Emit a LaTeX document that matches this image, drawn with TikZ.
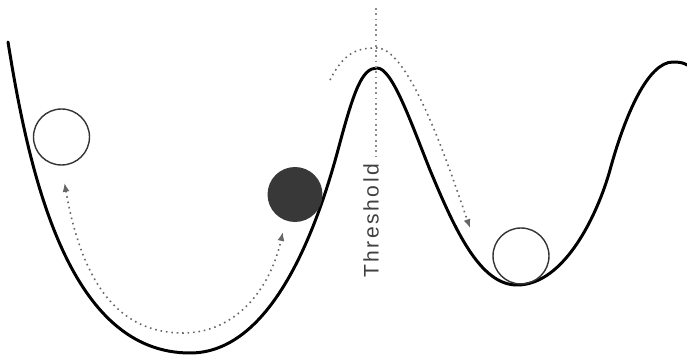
\documentclass[tikz,border=0pt]{standalone}
\usepackage{fontspec}
\setsansfont{Liberation Sans}
\usetikzlibrary{arrows.meta}

\begin{document}
\begin{tikzpicture}[
  x=0.02cm, y=-0.02cm,
  >={Latex[length=5pt, width=4pt]},
  land/.style={line width=1.7pt, line cap=round, line join=round},
  ball/.style={circle, draw=black!80, line width=0.8pt, minimum size=1.12cm, inner sep=0pt},
  heavy/.style={ball, draw=none, fill=black!78, minimum size=1.1cm},
  motion/.style={draw=black!60, line width=0.9pt, dash pattern=on 0.9pt off 2.2pt},
  limit/.style={draw=black!45, line width=0.9pt, dash pattern=on 1pt off 2pt},
  annot/.style={font=\sffamily\fontsize{12}{14}\selectfont\addfontfeature{LetterSpace=12}, text=black!75},
]
  \useasboundingbox (0,0) rectangle (687,361);

  % energy landscape
  \draw[land] (8,42) .. controls (30,180) and (70,353) .. (190,353)
    .. controls (270,353) and (315,235) .. (338,150)
    .. controls (354,90) and (362,68) .. (377,68)
    .. controls (392,68) and (410,120) .. (430,170)
    .. controls (455,230) and (480,285) .. (517,285)
    .. controls (565,285) and (598,213) .. (610,170)
    .. controls (625,115) and (648,62) .. (673,62)
    .. controls (680,62) and (684,63) .. (687,65);

  \node[ball] (left) at (61.5,137) {};
  \node[heavy] (dark) at (295,194.5) {};
  \node[ball] (right) at (521,256) {};

  % swing inside the first well
  \draw[motion, <->, shorten <=10pt, shorten >=6.5pt] (left.south)
    .. controls (85,300) and (130,333) .. (183,333)
    .. controls (235,333) and (270,290) .. (dark.-110);

  % over the barrier
  \coordinate (hop) at (330,80);
  \coordinate (land) at (470,228);
  \draw[motion, ->] (hop) .. controls (345,50) and (360,48) .. (377,48)
    .. controls (410,48) and (450,170) .. (land);

  \node[annot, rotate=90] (thr) at (371,221) {Threshold};
  \coordinate (top) at (376,8);
  \draw[limit] (top) -- (top |- thr.east);
\end{tikzpicture}
\end{document}
